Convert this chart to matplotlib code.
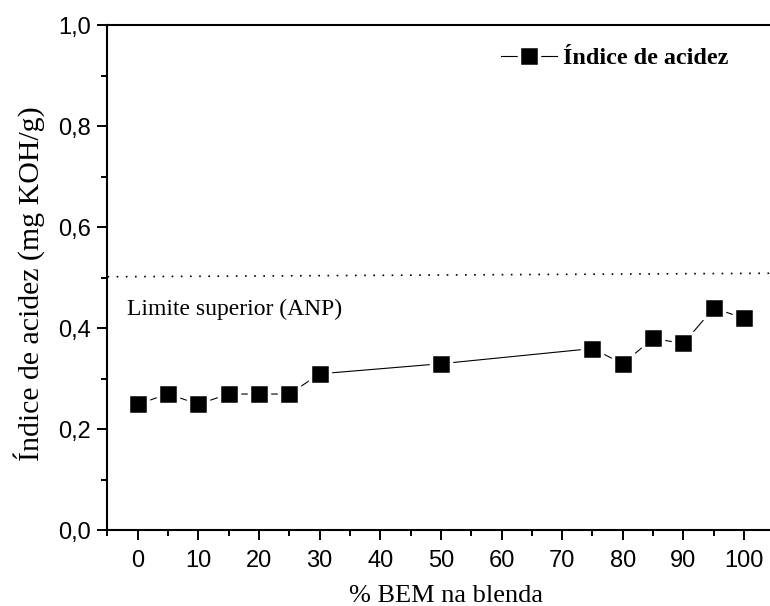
import matplotlib
matplotlib.use("Agg")
import matplotlib.pyplot as plt
from matplotlib.ticker import MultipleLocator, FuncFormatter

# ---------- data ----------
bem_pct = [0, 5, 10, 15, 20, 25, 30, 50, 75, 80, 85, 90, 95, 100]
acid_index = [0.25, 0.27, 0.25, 0.27, 0.27, 0.27, 0.31, 0.33, 0.36, 0.33, 0.38, 0.37, 0.44, 0.42]

# ANP upper limit line (drawn slightly sloped in the original)
limit_x = [-5, 105]
limit_y = [0.502, 0.509]

SANS = ["Liberation Sans", "DejaVu Sans"]
SERIF = ["Liberation Serif", "DejaVu Serif"]

fig = plt.figure(figsize=(7.7, 6.06), dpi=100)
ax = fig.add_axes([0.1396, 0.1246, 0.866, 0.834])

ax.plot(limit_x, limit_y, color="k", lw=1.2, dashes=(1, 4.5))
ax.plot(bem_pct, acid_index, color="k", lw=0.8, marker="s", ms=14,
        mfc="k", mec="white", mew=2.5, label="Índice de acidez")

ax.text(-1.7, 0.437, "Limite superior (ANP)", family=SERIF, fontsize=17,
        va="center", ha="left")

ax.set_xlim(-5, 105)
ax.set_ylim(0, 1.0)
ax.xaxis.set_major_locator(MultipleLocator(10))
ax.xaxis.set_minor_locator(MultipleLocator(5))
ax.yaxis.set_major_locator(MultipleLocator(0.2))
ax.yaxis.set_minor_locator(MultipleLocator(0.1))
ax.yaxis.set_major_formatter(FuncFormatter(lambda v, p: f"{v:.1f}".replace(".", ",")))

ax.tick_params(which="major", direction="out", length=7.2, width=1.4, labelsize=17,
               top=False, right=False)
ax.tick_params(which="minor", direction="out", length=4, width=1.4,
               top=False, right=False)
ax.tick_params(axis="x", which="major", pad=6.5)
ax.tick_params(axis="y", which="major", pad=4.5)
for lab in ax.get_xticklabels() + ax.get_yticklabels():
    lab.set_family(SANS)

for side in ["left", "bottom", "top"]:
    ax.spines[side].set_linewidth(1.5)
ax.spines["right"].set_visible(False)

ax.set_xlabel("% BEM na blenda", family=SERIF, fontsize=19)
ax.set_ylabel("Índice de acidez (mg KOH/g)", family=SERIF, fontsize=21.5)
ax.xaxis.set_label_coords(0.508, -0.107)
ax.yaxis.set_label_coords(-0.094, 0.4876)

ax.legend(loc="center right", bbox_to_anchor=(728 / 770, 1 - 58 / 606),
          bbox_transform=fig.transFigure, frameon=False, borderpad=0,
          borderaxespad=0, handlelength=2.3, handletextpad=0.25,
          prop={"family": SERIF, "weight": "bold", "size": 17.4})

fig.savefig("out.png", dpi=100)
